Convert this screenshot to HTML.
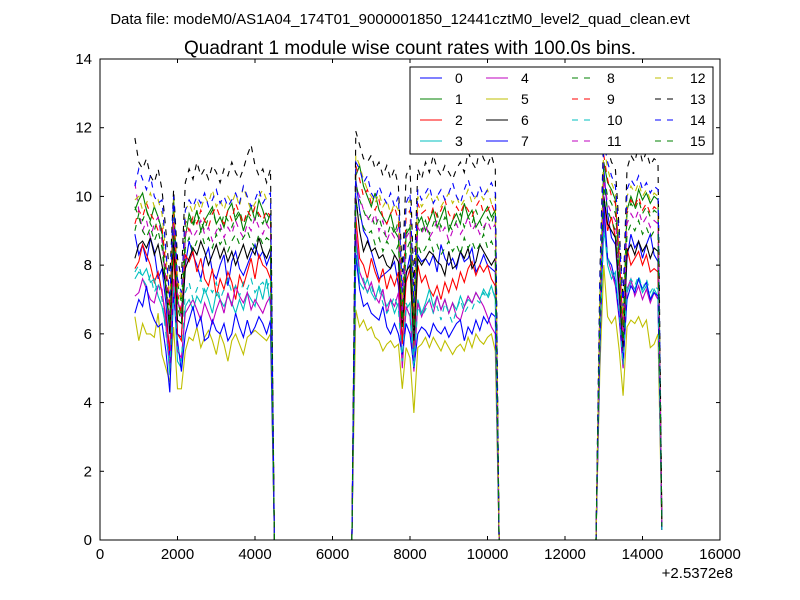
<!DOCTYPE html>
<html><head><meta charset="utf-8"><style>
body{margin:0;background:#fff;}
svg{display:block;font-family:"Liberation Sans","DejaVu Sans",sans-serif;}
</style></head><body>
<svg id="chart" width="800" height="600" viewBox="0 0 800 600">
<rect width="800" height="600" fill="#fff"/>
<text x="400" y="24" font-size="15" text-anchor="middle">Data file: modeM0/AS1A04_174T01_9000001850_12441cztM0_level2_quad_clean.evt</text>
<text x="410" y="54" font-size="19" text-anchor="middle">Quadrant 1 module wise count rates with 100.0s bins.</text>
<g id="plot"></g>
<g id="axes"></g>
<g id="legend"></g>
</svg>
<script>
const seriesNames = ["0","1","2","3","4","5","6","7","8","9","10","11","12","13","14","15"];
const xTicks = [0,2000,4000,6000,8000,10000,12000,14000,16000];
const yTicks = [0,2,4,6,8,10,12,14];
const seg1Start = 900, seg1Count = 36, seg2Start = 6600, seg2Count = 37, seg3Start = 12900, seg3Count = 17;
const gapZeroTimes = [[4500,6500],[10300,12800]];
const s0 = [8.9,8.3,8.6,8.1,8.8,8.4,7.6,7.9,6.9,5.3,9.2,6.0,5.9,8.0,8.7,8.3,8.0,7.6,8.2,8.5,7.8,7.6,8.0,8.3,7.4,8.1,8.4,7.9,7.7,8.0,8.3,8.6,8.2,8.4,8.0,8.3,
10.5,9.6,9.0,8.8,8.4,8.0,7.6,7.7,7.8,7.9,8.1,7.4,5.8,7.7,8.3,5.4,8.3,8.1,8.2,8.0,8.3,7.8,8.6,8.2,8.0,8.2,7.9,8.4,8.1,8.2,8.5,7.8,8.0,8.3,8.0,7.9,7.8,
6.5,10.8,9.5,8.8,8.6,7.0,5.6,8.2,8.9,8.5,8.7,8.2,8.6,8.9,8.3,8.1,0.3];
const s1 = [9.6,9.9,10.1,9.6,9.3,9.7,9.4,9.0,7.2,6.4,10.0,7.0,6.5,8.8,9.5,9.2,9.6,9.0,9.3,9.5,9.7,9.2,9.4,9.1,9.6,9.8,9.3,9.5,9.0,9.4,9.7,9.3,9.9,9.6,9.2,9.5,
10.6,10.9,10.3,10.0,9.7,10.1,9.6,9.4,9.2,9.5,9.0,8.8,6.3,8.9,9.1,6.2,9.2,9.4,9.0,9.3,9.6,9.1,9.4,9.7,9.0,9.3,9.5,9.2,9.8,9.4,9.6,9.1,9.3,9.5,9.7,9.4,9.6,
6.8,11.0,10.4,10.2,9.9,8.0,6.2,9.6,10.0,9.7,10.2,9.9,10.1,9.8,10.0,9.9,0.4];
const s2 = [7.9,8.1,8.6,8.3,8.0,7.5,7.8,7.2,6.5,5.5,8.4,6.0,5.8,8.3,8.1,8.4,7.8,8.2,7.6,7.4,7.9,7.1,7.6,7.3,7.8,7.5,7.0,7.7,7.4,7.8,8.2,7.6,8.3,8.0,7.9,7.6,
9.4,8.2,8.0,7.6,8.2,7.8,7.5,7.9,7.3,7.7,7.4,7.8,5.7,7.5,7.9,5.6,8.0,7.5,7.7,7.3,7.1,7.4,7.0,7.5,7.2,7.6,7.3,7.8,7.5,7.9,8.1,7.7,8.0,7.8,8.0,7.6,7.4,
6.0,10.0,9.0,9.4,8.8,7.2,5.5,8.5,8.0,8.2,8.4,8.0,8.3,7.8,7.9,7.8,0.3];
const s3 = [7.6,7.8,7.7,7.9,7.5,7.6,7.1,6.8,6.2,4.8,7.5,5.2,5.0,6.8,7.0,6.7,7.1,6.9,7.3,7.0,6.6,7.2,7.0,6.8,7.1,6.9,6.6,7.0,6.7,7.2,7.0,6.8,7.4,7.0,7.6,6.8,
8.8,7.5,7.3,7.6,7.2,7.0,7.4,7.1,6.8,7.0,6.6,6.9,5.3,6.7,6.9,5.2,7.0,6.6,6.9,7.3,6.8,7.1,6.7,7.0,6.6,6.9,6.7,7.1,6.8,7.0,6.9,7.2,7.0,7.3,7.1,7.4,7.0,
5.8,9.2,8.0,7.6,7.8,6.5,5.0,7.2,7.5,7.3,7.6,7.2,7.4,7.0,7.3,7.1,0.3];
const s4 = [7.1,7.2,7.6,7.3,7.0,6.9,7.4,7.3,6.3,5.0,7.6,5.5,5.3,6.6,6.8,7.0,6.7,6.4,6.9,6.6,6.3,6.7,7.0,6.6,7.2,6.8,7.4,7.1,6.9,7.2,6.7,7.0,6.8,6.6,6.9,7.1,
9.0,7.8,7.5,7.2,7.5,7.1,6.9,7.3,6.6,7.0,6.8,7.2,5.0,6.8,6.5,4.9,6.9,6.5,6.8,7.0,6.6,7.1,6.7,7.0,6.6,6.9,6.5,6.4,6.8,7.1,6.9,7.2,7.0,6.8,6.5,6.2,6.0,
5.7,9.5,8.2,7.8,7.4,6.4,5.0,7.3,7.6,7.1,7.4,7.0,7.3,6.9,7.2,7.0,0.3];
const s5 = [6.5,5.8,6.3,6.0,6.0,5.9,6.6,5.4,5.0,4.6,6.2,4.4,4.4,5.5,5.9,5.8,6.2,5.6,5.9,6.1,5.8,5.4,6.0,5.7,5.2,5.8,6.0,5.7,5.4,5.9,6.0,6.1,6.0,5.9,5.8,6.0,
6.7,6.2,6.4,6.1,6.2,5.9,5.8,5.5,5.7,5.8,5.6,5.7,4.4,5.6,5.3,3.7,5.6,5.7,5.9,5.6,5.9,5.7,5.5,5.8,5.6,5.4,5.6,5.7,5.5,5.9,5.6,6.0,5.8,5.7,5.9,6.0,5.5,
5.0,8.0,6.5,6.3,6.5,5.5,4.2,6.2,6.4,6.3,6.5,6.2,6.4,5.6,5.7,6.0,0.3];
const s6 = [8.2,8.6,8.7,8.5,8.8,8.3,8.6,8.0,7.4,6.0,8.8,6.4,6.3,7.9,8.2,8.5,8.3,8.7,8.4,8.0,8.3,8.6,8.2,8.5,8.1,8.4,8.0,8.3,8.6,8.2,8.5,8.3,8.8,8.4,8.2,8.5,
10.0,9.0,8.4,8.7,8.4,8.5,8.2,8.3,8.0,7.9,8.3,8.1,6.2,7.8,8.0,5.8,8.2,8.0,8.2,8.4,8.3,8.1,8.0,7.7,8.4,7.9,8.0,8.4,8.2,8.5,7.9,8.1,8.6,8.4,8.2,8.0,8.2,
6.2,10.0,9.2,9.0,8.8,7.3,5.6,8.4,8.6,8.3,8.7,8.4,8.6,8.2,8.5,8.4,0.3];
const s7 = [6.6,7.0,6.8,7.4,6.7,6.4,6.2,6.3,5.5,4.3,7.2,5.8,4.9,6.0,6.4,6.8,6.2,6.5,5.8,5.9,6.4,6.1,6.0,6.3,5.8,6.0,6.6,6.2,5.9,6.4,6.0,6.2,6.5,6.3,6.0,6.4,
8.3,7.3,6.8,6.9,6.6,6.5,6.4,6.8,6.2,6.0,6.3,6.0,5.4,6.3,6.0,5.0,6.0,6.2,6.1,5.9,6.3,6.1,6.0,6.2,5.9,6.1,6.3,6.4,5.8,6.2,6.0,6.4,6.1,6.5,6.3,6.6,6.5,
5.5,9.8,8.2,8.0,7.5,6.5,5.2,7.0,7.4,7.2,7.6,7.3,7.5,7.0,7.2,7.1,0.3];
const s8 = [9.0,9.5,9.3,9.6,9.2,9.0,9.4,8.9,7.8,6.4,9.6,7.5,6.9,9.2,9.4,9.1,9.5,9.3,9.0,9.4,9.6,9.2,9.0,9.5,9.3,9.1,9.4,9.6,9.2,9.5,9.3,9.7,9.4,9.2,9.5,9.3,
10.4,9.9,9.6,9.3,9.5,9.1,9.4,9.0,8.8,9.2,8.9,9.3,6.8,9.0,9.2,6.5,9.4,9.0,9.3,8.9,9.2,9.5,9.1,9.4,9.2,9.0,9.3,9.5,9.1,9.4,9.2,9.6,9.3,9.0,9.4,9.2,9.6,
6.9,10.6,10.0,9.8,9.5,8.2,6.0,9.5,9.8,9.6,9.9,9.5,9.7,9.4,9.6,9.5,0.4];
const s9 = [9.2,9.6,9.4,9.8,9.5,9.3,9.0,9.1,8.0,6.8,9.5,7.2,6.6,9.3,9.0,9.4,9.2,9.6,9.3,9.1,9.5,9.7,9.4,9.2,9.6,9.3,9.8,9.5,9.2,9.6,9.4,9.7,9.5,9.3,9.6,9.4,
10.9,10.5,10.0,10.2,9.8,9.6,9.9,9.4,9.2,9.5,9.7,9.3,6.8,9.4,9.6,6.4,9.8,9.5,9.6,9.3,9.7,9.4,9.6,9.9,9.5,9.3,9.7,9.5,9.8,9.6,9.4,9.7,9.9,9.5,9.6,9.8,9.5,
7.0,11.2,10.5,10.0,9.8,8.3,6.2,9.6,9.9,9.7,10.0,9.6,9.8,9.5,9.7,9.6,0.4];
const s10 = [7.8,8.0,7.6,7.4,7.7,7.2,7.5,7.0,6.0,5.0,7.4,5.6,5.2,7.2,7.5,7.0,7.3,7.6,7.1,7.4,7.2,7.5,7.0,7.3,7.6,7.2,7.4,7.1,7.5,7.3,7.6,7.2,7.4,7.5,7.3,7.6,
8.5,7.8,7.6,7.2,7.4,7.0,7.3,6.9,6.6,6.8,7.1,6.7,5.2,6.9,6.6,5.0,6.8,6.5,6.7,7.0,6.6,6.8,6.4,6.9,6.6,6.3,6.7,7.0,6.6,6.8,6.7,7.0,6.9,7.2,7.0,7.3,7.1,
5.9,9.0,8.3,7.8,7.6,6.6,5.1,7.4,7.6,7.4,7.7,7.3,7.6,7.2,7.4,7.3,0.3];
const s11 = [10.4,9.6,9.0,9.3,8.8,9.2,9.4,8.7,7.6,6.3,9.2,7.0,6.5,8.9,9.1,8.8,9.0,9.3,8.9,9.1,8.7,9.0,9.2,8.8,9.1,8.9,9.3,9.0,8.8,9.2,9.0,9.4,9.1,8.9,9.2,9.0,
10.3,10.0,9.6,9.4,9.2,9.5,9.0,9.3,8.7,9.0,8.8,9.1,6.4,8.8,9.0,6.0,9.1,8.9,9.2,8.8,9.0,9.3,8.9,9.1,8.7,9.0,9.2,8.9,9.1,9.4,9.0,9.2,8.9,9.1,9.3,9.0,9.2,
6.6,10.5,9.8,9.5,9.3,7.8,5.8,9.2,9.5,9.3,9.6,9.2,9.4,9.1,9.3,9.2,0.4];
const s12 = [9.9,10.0,9.6,9.8,10.1,9.7,9.9,9.5,8.3,7.0,10.0,7.6,7.0,9.6,9.8,9.5,9.9,9.6,10.0,9.8,10.2,9.7,9.9,9.6,10.0,9.8,10.1,9.7,10.3,9.9,9.6,9.8,10.0,10.2,9.9,9.8,
11.2,10.9,10.5,10.2,10.0,9.8,10.1,9.7,9.9,9.5,9.8,9.6,7.0,9.7,9.9,6.8,10.0,9.7,9.9,10.1,9.8,10.0,9.7,9.9,10.1,9.8,10.0,9.7,9.9,10.2,9.8,10.0,10.1,9.9,10.2,9.8,10.0,
7.2,11.5,10.8,10.4,10.1,8.5,6.5,10.0,10.3,10.1,10.4,10.0,10.2,9.9,10.1,10.0,0.4];
const s13 = [11.7,11.0,10.8,11.1,10.6,10.4,10.8,10.2,9.0,7.6,10.2,8.2,7.6,10.4,10.8,10.5,11.0,10.6,10.8,10.5,10.9,10.7,10.4,10.8,10.6,11.0,10.7,10.5,10.8,11.2,11.5,10.9,10.6,10.8,10.4,10.8,
11.9,11.5,11.1,11.0,11.2,10.8,11.0,10.6,10.9,10.5,10.8,10.3,7.8,10.6,10.9,7.4,10.8,10.5,11.0,10.7,11.2,10.8,10.6,10.9,10.7,10.5,10.8,11.0,10.7,11.3,11.0,10.8,11.4,11.1,10.9,11.2,10.8,
7.8,12.0,11.4,11.0,10.8,9.0,7.0,10.8,11.2,11.0,11.5,11.0,11.3,10.9,11.1,11.0,0.4];
const s14 = [10.3,10.8,10.5,10.2,10.6,10.0,9.8,9.9,8.4,7.0,10.0,7.6,7.2,9.6,9.9,9.7,10.0,9.8,10.1,9.7,9.9,10.2,9.8,10.0,9.7,9.9,10.1,9.8,10.3,10.0,9.7,9.9,10.2,9.8,10.0,10.1,
11.0,10.8,10.4,10.6,10.1,9.9,10.3,10.0,9.8,10.1,9.7,10.0,7.2,9.8,10.1,6.9,10.2,9.9,10.1,10.3,9.8,10.0,10.2,9.9,10.1,10.4,10.0,9.8,10.2,10.5,10.1,9.9,10.3,10.0,10.2,10.4,10.1,
7.5,11.6,11.0,10.6,10.3,8.8,6.8,10.2,10.5,10.3,10.6,10.2,10.4,10.1,10.3,10.2,0.4];
const s15 = [9.7,9.4,9.0,8.8,9.1,8.7,9.0,8.5,7.4,6.2,8.9,6.8,6.3,8.5,8.8,8.4,8.7,9.0,8.6,8.8,8.5,8.9,8.6,8.8,8.4,8.7,8.9,8.6,8.8,9.0,8.7,8.5,8.9,8.6,8.8,8.7,
9.8,9.5,9.1,8.9,9.0,8.6,8.8,8.4,8.7,8.5,8.3,8.6,6.2,8.4,8.7,6.0,8.6,8.3,8.5,8.8,8.4,8.6,8.3,8.5,8.7,8.4,8.6,8.3,8.8,8.5,8.7,8.4,8.6,8.9,8.5,8.7,8.4,
6.5,10.3,9.6,9.3,9.0,7.6,5.8,8.9,9.2,9.0,9.3,8.9,9.1,8.8,9.0,8.9,0.4];
const seriesData = [s0,s1,s2,s3,s4,s5,s6,s7,s8,s9,s10,s11,s12,s13,s14,s15];

const NS = "http://www.w3.org/2000/svg";
const L = 100, R = 720, T = 59, B = 540;
const xScale = v => L + v / 16000 * (R - L);
const yScale = v => B - v / 14 * (B - T);
const colors = ["#0000ff","#008000","#ff0000","#00bfbf","#bf00bf","#bfbf00","#000000"];
function mk(tag, attrs, parent){const e=document.createElementNS(NS,tag);for(const k in attrs)e.setAttribute(k,attrs[k]);parent.appendChild(e);return e;}

const plot = document.getElementById('plot');
const clip = mk('clipPath',{id:'clipP'},plot);
mk('rect',{x:L,y:T-2,width:R-L,height:B-T+2},clip);
seriesData.forEach((vals,si)=>{
  const pts=[];
  for(let i=0;i<seg1Count;i++) pts.push([seg1Start+i*100, vals[i]]);
  pts.push([gapZeroTimes[0][0],0],[gapZeroTimes[0][1],0]);
  for(let i=0;i<seg2Count;i++) pts.push([seg2Start+i*100, vals[seg1Count+i]]);
  pts.push([gapZeroTimes[1][0],0],[gapZeroTimes[1][1],0]);
  for(let i=0;i<seg3Count;i++) pts.push([seg3Start+i*100, vals[seg1Count+seg2Count+i]]);
  const d = pts.map((p,i)=>(i?'L':'M')+xScale(p[0]).toFixed(1)+','+yScale(p[1]).toFixed(1)).join('');
  const path = mk('path',{d:d,fill:'none',stroke:colors[si%7],'stroke-width':1.1,'clip-path':'url(#clipP)'},plot);
  if(si>=8) path.setAttribute('stroke-dasharray','6,6');
  
  
});

const axes = document.getElementById('axes');
const frame = mk('rect',{x:L,y:T,width:R-L,height:B-T,fill:'none',stroke:'#000','stroke-width':1},axes);


xTicks.forEach(v=>{
  const x=xScale(v);
  mk('line',{x1:x,x2:x,y1:B,y2:B-4,stroke:'#000'},axes);
  mk('line',{x1:x,x2:x,y1:T,y2:T+4,stroke:'#000'},axes);
  const t=mk('text',{x:x,y:B+19,'font-size':15,'text-anchor':'middle'},axes);
  t.textContent=v;
  
  
});
yTicks.forEach(v=>{
  const y=yScale(v);
  mk('line',{x1:L,x2:L+4,y1:y,y2:y,stroke:'#000'},axes);
  mk('line',{x1:R,x2:R-4,y1:y,y2:y,stroke:'#000'},axes);
  const t=mk('text',{x:L-8,y:y+5,'font-size':15,'text-anchor':'end'},axes);
  t.textContent=v;
  
  
});
const off=mk('text',{x:733,y:578,'font-size':15,'text-anchor':'end'},axes);
off.textContent='+2.5372e8';



const lg = document.getElementById('legend');
const box = mk('rect',{x:410,y:67,width:303,height:87,fill:'#fff',stroke:'#000','stroke-width':1},lg);


const colX=[420,486,572,655];
seriesNames.forEach((n,i)=>{
  const c=Math.floor(i/4), r=i%4;
  const y=78+r*21;
  const g=mk('g',{},lg);
  
  
  const ln=mk('line',{x1:colX[c],x2:colX[c]+22,y1:y,y2:y,stroke:colors[i%7],'stroke-width':1.1},g);
  if(i>=8) ln.setAttribute('stroke-dasharray','6,6');
  const t=mk('text',{x:colX[c]+35,y:y+5,'font-size':14},g);
  t.textContent=n;
});
</script>
</body></html>
